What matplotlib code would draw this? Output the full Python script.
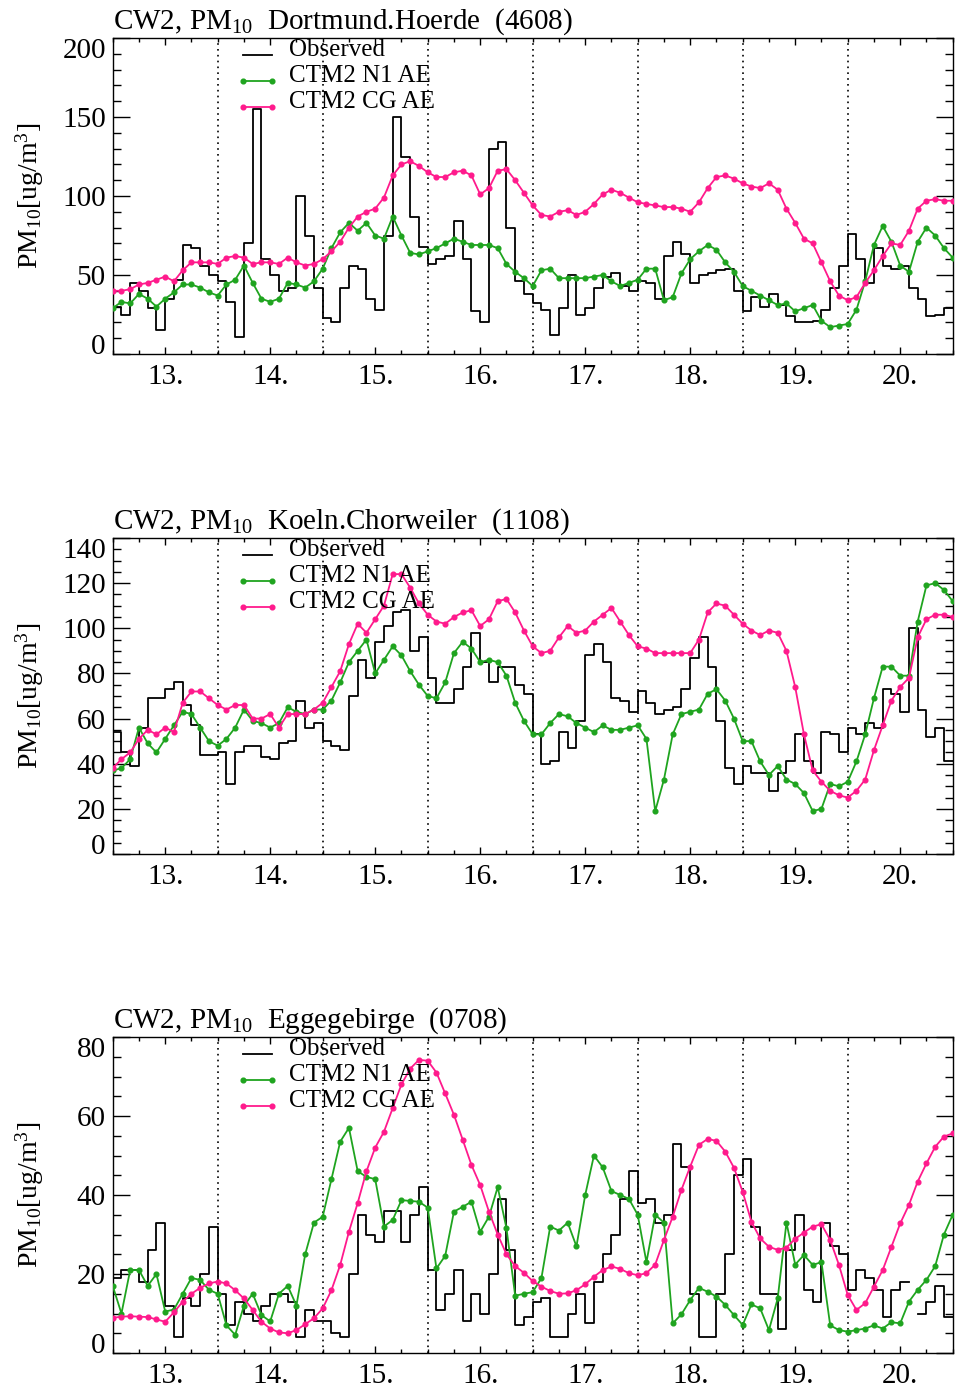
import numpy as np
import matplotlib
matplotlib.use('Agg')
import matplotlib.pyplot as plt
from matplotlib.ticker import MultipleLocator
from matplotlib.lines import Line2D
from matplotlib.legend_handler import HandlerLine2D

plt.rcParams['font.family'] = ['Liberation Serif', 'DejaVu Serif']
plt.rcParams['mathtext.fontset'] = 'custom'
plt.rcParams['mathtext.rm'] = 'Liberation Serif'
plt.rcParams['mathtext.it'] = 'Liberation Serif:italic'
plt.rcParams['mathtext.default'] = 'rm'

# time axis: days, values every 2 hours
model_t = 12.5 + np.arange(97) / 12.0      # model output times
obs_edges = 12.5 + np.arange(97) / 12.0    # edges of the 2-hourly observation bins
day_ticks = np.arange(13, 21)
day_labels = ['%d.' % d for d in day_ticks]
midnights = np.arange(13.5, 20.0, 1.0)

# --- Dortmund.Hoerde (4608)
obs_dortmund = [30, 25, 45, 40, 29, 15, 35, 47, 69, 67, 56, 50, 46, 33, 11, 70,
                155, 60, 50, 40, 42, 100, 75, 42, 23, 20, 42, 56, 54, 35, 28, 75,
                150, 125, 87, 68, 57, 60, 62, 84, 60, 27, 20, 130, 134, 80, 46, 38,
                32, 28, 12, 29, 50, 25, 29, 42, 49, 51, 43, 40, 46, 45, 35, 62,
                71, 63, 45, 50, 51, 53, 54, 40, 27, 36, 30, 38, 31, 24, 20, 20,
                21, 28, 42, 56, 76, 60, 45, 67, 56, 54, 56, 42, 35, 24, 25, 29]
n1_dortmund = [29, 33, 32, 38, 35, 30, 35, 39, 44, 44, 42, 39, 37, 44, 47, 56,
               45, 35, 33, 35, 45, 44, 42, 46, 54, 67, 77, 83, 78, 83, 75, 73,
               87, 75, 64, 63, 65, 67, 70, 73, 71, 69, 69, 69, 67, 57, 52, 48,
               43, 53, 54, 48, 48, 48, 48, 49, 50, 46, 43, 45, 47, 54, 54, 34,
               36, 51, 60, 65, 69, 66, 58, 52, 43, 40, 37, 34, 31, 32, 27, 29,
               31, 21, 17, 18, 19, 28, 46, 69, 81, 71, 56, 52, 71, 80, 75, 67, 61]
cg_dortmund = [40, 40, 41, 44, 45, 47, 49, 46, 53, 58, 58, 58, 57, 61, 62, 61,
               57, 58, 58, 57, 61, 58, 56, 57, 60, 65, 71, 80, 87, 90, 92, 99,
               113, 120, 122, 119, 115, 112, 112, 115, 116, 113, 101, 105, 116, 117, 110, 102,
               94, 88, 87, 90, 91, 88, 90, 95, 101, 104, 102, 99, 96, 95, 94, 93,
               93, 92, 90, 96, 105, 112, 113, 111, 108, 106, 105, 108, 104, 92, 83, 73,
               70, 58, 46, 37, 34, 36, 45, 53, 62, 70, 69, 78, 92, 97, 98, 97, 97]

# --- Koeln.Chorweiler (1108)
obs_koeln = [54, 45, 39, 56, 69, 69, 73, 76, 66, 57, 44, 44, 45, 31, 45, 48,
             48, 43, 42, 49, 50, 68, 56, 58, 50, 48, 46, 70, 86, 78, 94, 101,
             107, 108, 90, 96, 78, 67, 67, 73, 83, 98, 85, 76, 83, 83, 75, 71,
             53, 40, 41, 54, 47, 59, 88, 93, 85, 69, 68, 63, 72, 67, 62, 64,
             65, 73, 87, 96, 83, 59, 38, 31, 39, 36, 36, 28, 36, 41, 53, 41,
             36, 54, 53, 45, 56, 53, 58, 56, 73, 71, 63, 100, 64, 52, 56, 41]
n1_koeln = [37, 38, 42, 56, 49, 45, 51, 57, 63, 62, 56, 50, 48, 51, 56, 64,
            59, 58, 56, 58, 65, 63, 62, 64, 64, 68, 76, 85, 90, 95, 80, 86,
            92, 88, 81, 75, 70, 69, 76, 89, 94, 91, 85, 86, 85, 79, 67, 59,
            53, 53, 58, 62, 61, 58, 56, 54, 57, 55, 55, 56, 57, 51, 19, 33,
            53, 62, 63, 64, 71, 73, 68, 60, 50, 50, 41, 35, 39, 33, 31, 27,
            19, 20, 31, 30, 32, 41, 53, 69, 83, 83, 79, 79, 103, 119, 120, 117, 112]
cg_koeln = [38, 42, 45, 51, 55, 53, 56, 54, 67, 72, 72, 69, 66, 64, 66, 66,
            60, 60, 62, 56, 62, 62, 62, 64, 67, 74, 81, 93, 102, 98, 104, 110,
            124, 124, 118, 111, 106, 103, 102, 105, 107, 108, 101, 104, 112, 113, 107, 99,
            92, 89, 90, 96, 101, 98, 99, 103, 106, 109, 103, 97, 92, 91, 89, 89,
            89, 89, 89, 95, 107, 111, 110, 106, 102, 99, 97, 99, 98, 90, 74, 53,
            37, 32, 28, 26, 25, 28, 33, 46, 57, 68, 74, 78, 96, 104, 106, 106, 105]

# --- Eggegebirge (0708)
obs_egge = [19, 21, 21, 18, 26, 33, 12, 4, 14, 12, 20, 32, 15, 7, 13, 10,
            8, 12, 15, 15, 13, 4, 11, 8, 8, 5, 4, 20, 35, 30, 28, 36,
            36, 28, 35, 42, 21, 11, 15, 21, 8, 15, 10, 20, 39, 26, 7, 9,
            13, 14, 4, 4, 10, 15, 7.5, 18, 25, 30, 39, 46, 38, 39, 33, 35,
            53, 47, 15, 4, 4, 15, 25, 45, 49, 32, 15, 15, 6, 26, 35, 16,
            13, 33, 27, 25, 16, 21, 19, 16, 9, 16, 18, np.nan, 10, 13, 17, 9]
n1_egge = [17, 10, 21, 21, 17, 20, 10.5, 11, 15, 19, 18.5, 16, 15, 7, 4.6, 12,
           15, 9.6, 8, 15, 17, 12, 25, 33, 34.5, 44, 53.5, 57, 46, 44.6, 44, 32,
           33.7, 38.7, 38.5, 38.3, 36.8, 21.4, 24.6, 35.8, 37, 38.3, 30.7, 34.5, 42, 31.6, 14.5, 15,
           15.4, 19, 32, 31, 33, 27, 40, 50, 47, 41, 40, 39, 35, 23, 35, 33,
           7.5, 9.8, 13.4, 16.5, 15.5, 14.3, 12.2, 9.6, 7.1, 12.3, 11.3, 5.8, 13.8, 33, 22.4, 24.8,
           22.3, 23, 7, 5.8, 5.4, 5.8, 6.2, 7, 6.2, 7.8, 7.5, 13, 16, 18.5, 22, 30, 35]
cg_egge = [8.9, 9.2, 9.3, 9.2, 9.1, 8.5, 7.9, 10.3, 13, 15, 16.5, 17.6, 18.1, 17.6, 15.9, 13.8,
           10.9, 7.9, 6.2, 5.2, 5, 5.8, 7.3, 8.8, 11.3, 15.9, 22.3, 30.7, 38, 46, 52, 56,
           62, 68, 72, 74.2, 74, 71, 65.7, 60.3, 54, 47.6, 42.5, 35.8, 30, 25, 22, 20.3,
           18.2, 16.8, 15.7, 15, 15.1, 15.9, 17.4, 19.3, 21, 21.9, 21.3, 20.2, 19.7, 20.2, 22.4, 28.6,
           34.5, 41.3, 47.2, 52.7, 54.2, 53.7, 51, 46.9, 40.8, 33.2, 29, 26.9, 26.1, 26.7, 28.9, 30.5,
           32, 32.6, 28.6, 22.3, 14.7, 10.9, 12.6, 16.8, 21, 26.9, 32.8, 37.5, 43.4, 48, 52.2, 54.8, 55.6]

panels = [
    ('Dortmund.Hoerde  (4608)', obs_dortmund, n1_dortmund, cg_dortmund, 200, 50, 10),
    ('Koeln.Chorweiler  (1108)', obs_koeln, n1_koeln, cg_koeln, 140, 20, 5),
    ('Eggegebirge  (0708)', obs_egge, n1_egge, cg_egge, 80, 20, 5),
]
bottoms = [1 - 354 / 1388., 1 - 854 / 1388., 1 - 1353 / 1388.]

green = '#1fa41f'
pink = '#ff1a8c'


class LowLine(HandlerLine2D):
    # legend line sits near the text baseline, as in the original plot
    def create_artists(self, legend, orig_handle, xdescent, ydescent,
                       width, height, fontsize, trans):
        arts = super().create_artists(legend, orig_handle, xdescent, ydescent,
                                      width, height, fontsize, trans)
        for a in arts:
            a.set_ydata(np.asarray(a.get_ydata()) - 0.3 * fontsize)
        return arts


fig = plt.figure(figsize=(9.55, 13.88), dpi=100)

for (name, obs, n1, cg, ytop, ymaj, ymin), bot in zip(panels, bottoms):
    ax = fig.add_axes([112.7 / 955, bot, 840 / 955, 316 / 1388.])
    for m in midnights:
        ax.axvline(m, color='k', lw=1.2, linestyle=(0, (1, 2.5)), zorder=1)
    obs_y = np.append(obs, obs[-1])
    ax.step(obs_edges, obs_y, where='post', color='k', lw=1.3, zorder=3)
    ax.plot(model_t, n1, color=green, lw=1.3, marker='o', ms=3.4, zorder=4)
    ax.plot(model_t, cg, color=pink, lw=1.3, marker='o', ms=3.4, zorder=5)

    ax.set_xlim(12.5, 20.5)
    ax.set_ylim(0, ytop)
    ax.set_xticks(day_ticks)
    ax.set_xticklabels(day_labels)
    ax.xaxis.set_minor_locator(MultipleLocator(0.25))
    ax.set_yticks(np.arange(0, ytop + 1, ymaj))
    ax.yaxis.set_minor_locator(MultipleLocator(ymin))
    ax.tick_params(axis='y', which='major', direction='in', length=12, width=1,
                   left=True, right=True, labelsize=21, pad=5)
    ax.tick_params(axis='y', which='minor', direction='in', length=6, width=1,
                   left=True, right=True)
    ax.tick_params(axis='x', which='major', direction='in', length=5, width=1,
                   top=True, bottom=True, labelsize=21, pad=7)
    ax.tick_params(axis='x', which='minor', direction='in', length=3, width=1,
                   top=True, bottom=True)
    yt = ax.yaxis.get_major_ticks()
    yt[0].label1.set_verticalalignment('baseline')
    yt[-1].label1.set_verticalalignment('top')
    for s in ax.spines.values():
        s.set_linewidth(1.0)

    ax.set_ylabel('PM$_{10}$[ug/m$^3$]', fontsize=20)
    ax.yaxis.set_label_coords(-0.08, 0.5)
    ax.text(0, 1.03, 'CW2, PM$_{10}$  ' + name, transform=ax.transAxes,
            ha='left', va='baseline', fontsize=21)

    h_obs = Line2D([], [], color='k', lw=1.3)
    h_n1 = Line2D([], [], color=green, lw=1.3, marker='o', ms=3.4)
    h_cg = Line2D([], [], color=pink, lw=1.3, marker='o', ms=3.4)
    ax.legend([h_obs, h_n1, h_cg], ['Observed', 'CTM2 N1 AE', 'CTM2 CG AE'],
              loc='upper left', bbox_to_anchor=(0.146, 0.999), frameon=False,
              fontsize=18, handlelength=1.75, handletextpad=0.4,
              labelspacing=0.14, borderpad=0, borderaxespad=0, numpoints=2,
              handler_map={Line2D: LowLine()})

fig.savefig('out.png', dpi=100)
